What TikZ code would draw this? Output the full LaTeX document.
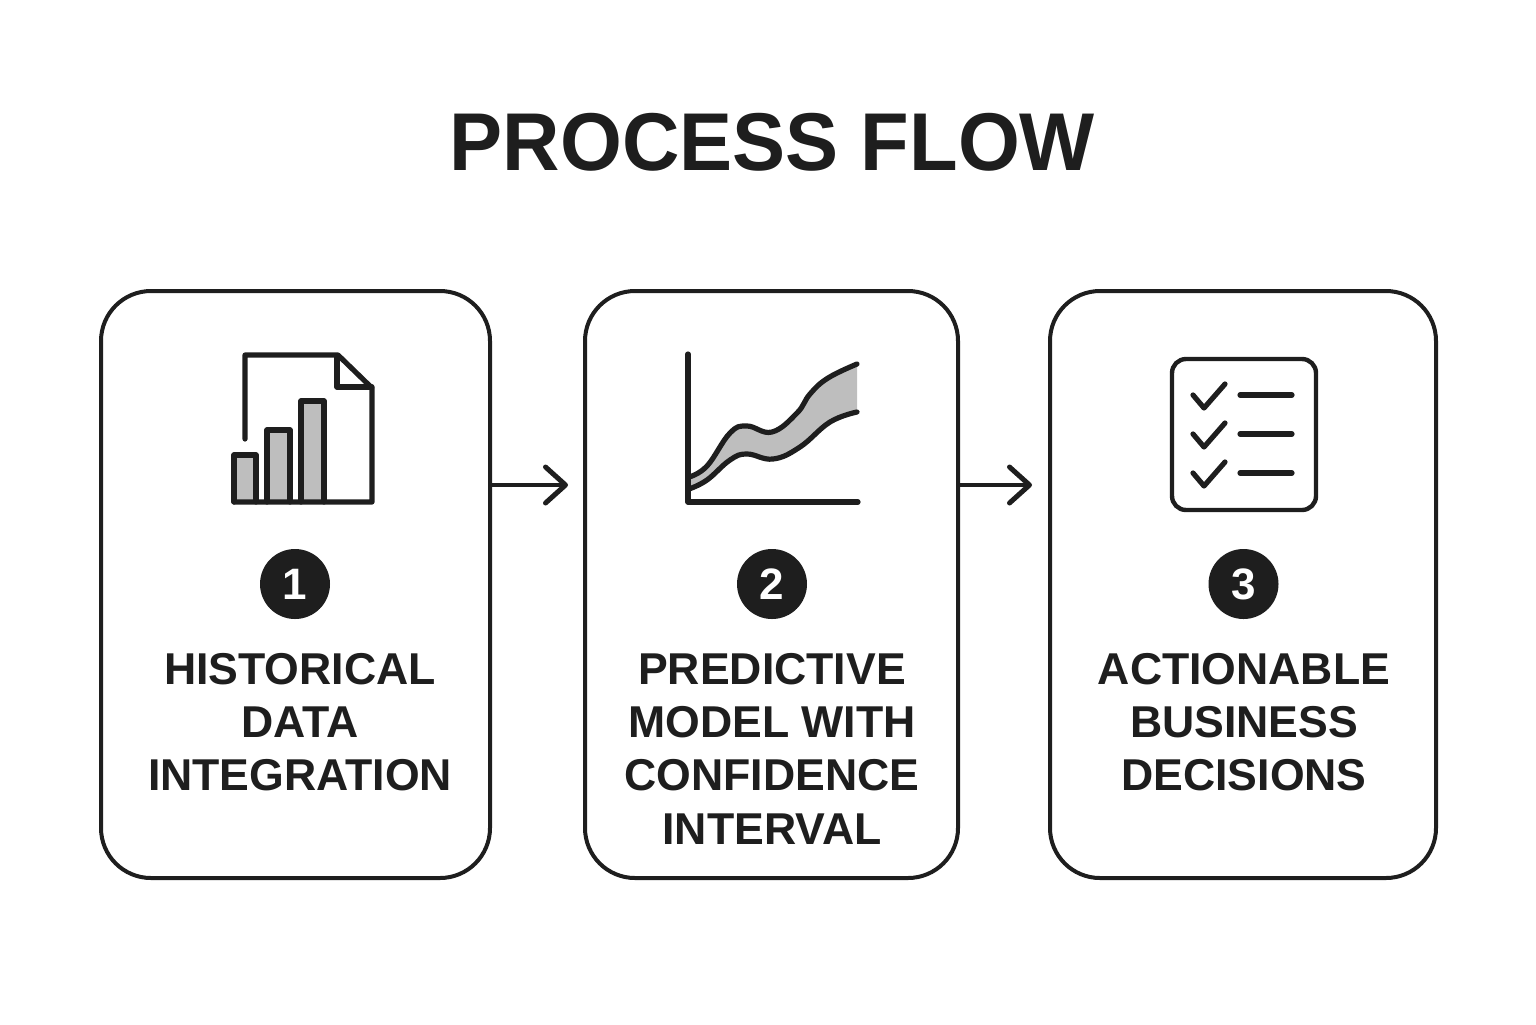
\documentclass[tikz,border=0pt]{standalone}
\usepackage{fontspec}
\setmainfont{Liberation Sans}
\newfontfamily\titlefont[FakeStretch=0.97,BoldFont={Liberation Sans Bold}]{Liberation Sans}
\usetikzlibrary{arrows.meta}
\definecolor{ink}{HTML}{1E1E1E}
\definecolor{band}{HTML}{BEBEBE}
\tikzset{
  card/.style={draw=ink,line width=2pt,rounded corners=25pt,minimum height=293.5pt,inner sep=0pt},
  badge/.style={circle,fill=ink,minimum size=35pt,inner sep=0pt,text=white,font=\fontsize{22}{22}\selectfont\bfseries},
  label/.style={text=ink,align=center,inner sep=0pt,font=\fontsize{22.3}{26.6}\selectfont\bfseries},
  flow/.style={draw=ink,line width=2pt,line cap=round,-{Straight Barb[length=10pt,width=18pt,line width=2.5pt,round]}},
  icon/.style={draw=ink,line width=2.6pt,line cap=round,line join=round},
  thin icon/.style={draw=ink,line width=2.2pt,line cap=round,line join=round}
}
\begin{document}
\begin{tikzpicture}[x=0.5pt,y=-0.5pt]
\useasboundingbox (0,0) rectangle (1536,1024);
\node[text=ink,inner sep=0pt,anchor=base,font=\titlefont\fontsize{41}{41}\selectfont\bfseries] (title) at (772.5,170) {PROCESS FLOW};
% cards
\node[card,minimum width=194.5pt] (c1) at (295.5,584.5) {};
\node[card,minimum width=186.5pt] (c2) at (771.5,584.5) {};
\node[card,minimum width=193pt] (c3) at (1243,584.5) {};
% arrows
\coordinate (t1) at (568,485);
\coordinate (t2) at (1032,485);
\draw[flow] (c1.east |- t1) -- (t1);
\draw[flow] (c2.east |- t2) -- (t2);
% icon 1
\filldraw[icon,fill=band] (234,502) -- (234,455) -- (256,455) -- (256,502);
\filldraw[icon,fill=band] (267,502) -- (267,430) -- (290,430) -- (290,502);
\filldraw[icon,fill=band] (301,502) -- (301,401) -- (324,401) -- (324,502);
\draw[icon] (245,439) -- (245,355) -- (338,355) -- (372,388) -- (372,502) -- (234,502);
\draw[icon] (337,356) -- (337,387) -- (372,387);
% icon 2
\fill[band] plot[smooth,tension=0.7] coordinates {(689,477) (707,466) (730,433) (747,426) (772,432) (797,413) (810,394) (828,378) (857,364)}
  -- plot[smooth,tension=0.7] coordinates {(857,412) (830,422) (800,447) (773,459) (747,454) (730,460) (707,480) (689,489)} -- cycle;
\draw[icon] plot[smooth,tension=0.7] coordinates {(689,477) (707,466) (730,433) (747,426) (772,432) (797,413) (810,394) (828,378) (857,364)};
\draw[icon] plot[smooth,tension=0.7] coordinates {(689,489) (707,480) (730,460) (747,454) (773,459) (800,447) (830,422) (857,412)};
\draw[icon] (688,354) -- (688,502) -- (858,502);
% icon 3
\draw[thin icon,rounded corners=7pt] (1172,359) rectangle (1316,510);
\foreach \dy in {0,39,78}{
  \draw[icon] (1193,395+\dy) -- (1204,408+\dy) -- (1225,384+\dy);
  \draw[icon] (1240,395+\dy) -- (1292,395+\dy);
}
% badges
\node[badge] (b1) at (295,584) {1};
\node[badge] (b2) at (772,584) {2};
\node[badge] (b3) at (1243.5,584) {3};
% labels
\node[label,anchor=north] (l1) at (300,653) {HISTORICAL\\DATA\\INTEGRATION};
\node[label,anchor=north] (l2) at (772,653) {PREDICTIVE\\MODEL WITH\\CONFIDENCE\\INTERVAL};
\node[label,anchor=north] (l3) at (1244,653) {ACTIONABLE\\BUSINESS\\DECISIONS};
\end{tikzpicture}
\end{document}
